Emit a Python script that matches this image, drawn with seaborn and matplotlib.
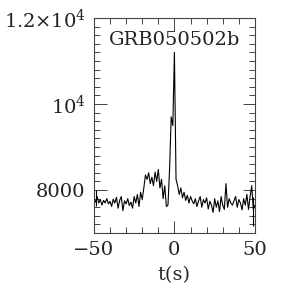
import numpy as np
import pandas as pd
import matplotlib
matplotlib.use("Agg")
import matplotlib.pyplot as plt
from matplotlib.ticker import MultipleLocator, FixedLocator, FixedFormatter
import seaborn as sns

# light curve, 1 s bins
time_s = list(range(-50, 51))
counts = [
    7800, 7720, 7850, 7700, 7780, 7650, 7760, 7700, 7800, 7680,
    7740, 7620, 7790, 7700, 7830, 7580, 7760, 7850, 7520, 7750,
    7680, 7800, 7640, 7720, 7580, 7850, 7700, 7900, 7620, 7950,
    7780, 8050, 8350, 8250, 8400, 8150, 8300, 8100, 8420, 8200,
    8480, 8050, 8250, 7800, 8100, 7620, 7650, 8500, 9700, 9500,
    11200, 8250, 8100, 7900, 8050, 7820, 7950, 7760, 7880, 7700,
    7850, 7750, 7680, 7800, 7620, 7750, 7850, 7600, 7780, 7700,
    7820, 7560, 7740, 7650, 7480, 7800, 7600, 7750, 7500, 7850,
    7650, 7550, 8150, 7600, 7800, 7700, 7650, 7750, 7850, 7600,
    7780, 7700, 7540, 7800, 7650, 7900, 7550, 7850, 8100, 7550,
    7650,
]

# representative error bars
err_t = [-49, 49]
err_y = [7820, 7500]
err_e = [180, 330]

title = "GRB050502b"

sns.set_style("ticks")
plt.rcParams['font.family'] = ['DejaVu Serif']
plt.rcParams['mathtext.fontset'] = 'dejavuserif'
plt.rcParams['text.color'] = '#222222'
plt.rcParams['xtick.labelcolor'] = '#222222'
plt.rcParams['ytick.labelcolor'] = '#222222'

df = pd.DataFrame({"t": time_s, "c": counts})

fig = plt.figure(figsize=(2.82, 3.0), dpi=100)
ax = fig.add_axes([0.333, 0.223, 0.571, 0.717])

sns.lineplot(data=df, x="t", y="c", ax=ax, color="black", linewidth=0.8)
ax.errorbar(err_t, err_y, yerr=err_e, fmt="none", ecolor="black", elinewidth=0.8, capsize=0)

ax.set_xlim(-50, 50)
ax.set_ylim(7000, 12000)

ax.xaxis.set_major_locator(MultipleLocator(50))
ax.xaxis.set_minor_locator(MultipleLocator(10))
ax.yaxis.set_major_locator(FixedLocator([8000, 10000, 12000]))
ax.yaxis.set_major_formatter(FixedFormatter(["8000", r"$10^4$", r"$1.2{\times}10^4$"]))
ax.yaxis.set_minor_locator(MultipleLocator(200))
ax.xaxis.set_major_formatter(plt.FuncFormatter(lambda v, p: f"{int(v)}".replace("-", "\u2212")))

ax.tick_params(which="both", direction="in", top=True, right=True, width=0.7, color="#444444")
ax.tick_params(which="major", length=9, labelsize=14, pad=6)
ax.tick_params(which="minor", length=4.5)
for s in ax.spines.values():
    s.set_linewidth(0.8)
    s.set_color("#444444")

ax.set_xlabel("t(s)", fontsize=14, labelpad=5)
ax.set_ylabel("")
ax.text(0.5, 0.9, title, transform=ax.transAxes, ha="center", va="center", fontsize=14)

fig.savefig("out.png", dpi=100)
